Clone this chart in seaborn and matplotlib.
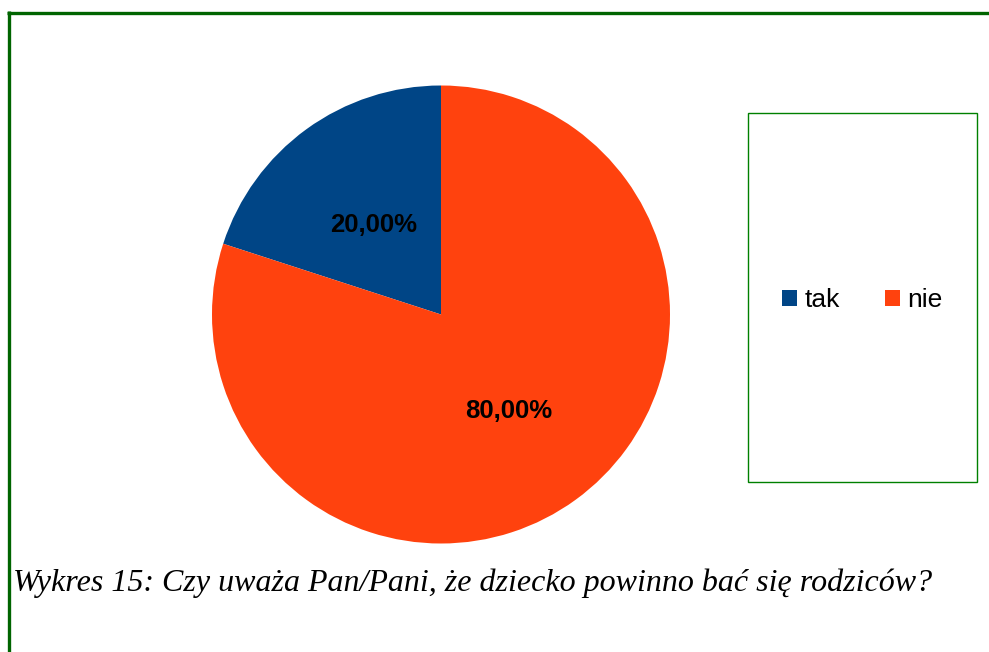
import matplotlib
matplotlib.use("Agg")
import matplotlib.pyplot as plt
import seaborn as sns
from matplotlib.patches import Rectangle
from matplotlib.lines import Line2D

# dane
kategorie = ["tak", "nie"]
wartosci = [20.0, 80.0]
kolory_hex = ["#004586", "#ff420e"]
podpis = "Wykres 15: Czy uważa Pan/Pani, że dziecko powinno bać się rodziców?"

sns.set_style("white")
plt.rcParams["font.family"] = ["Liberation Sans", "DejaVu Sans"]
plt.rcParams["text.color"] = "black"
paleta = sns.color_palette(kolory_hex)

W, H = 989, 652
fig = plt.figure(figsize=(W / 100, H / 100), dpi=100)

# wykres kołowy
cx, cy, r = 441, 314.5, 229
ax = fig.add_axes([(cx - r) / W, (H - cy - r) / H, 2 * r / W, 2 * r / H])
wedges, _, autotexts = ax.pie(
    wartosci, colors=paleta, startangle=90, counterclock=True,
    autopct=lambda p: f"{p:.2f}%".replace(".", ","), pctdistance=0.5,
    radius=1.0, labels=None, wedgeprops={"linewidth": 0, "edgecolor": "none"},
)
for t in autotexts:
    t.set_fontsize(18.5)
    t.set_fontweight("bold")
    t.set_color("black")
    x, y = t.get_position()
    t.set_position((x, y - 0.015))
ax.set_xlim(-1, 1)
ax.set_ylim(-1, 1)
ax.axis("off")

# ramka legendy
fig.patches.append(Rectangle((748 / W, (H - 482) / H), (977 - 748) / W, (482 - 113) / H,
                             transform=fig.transFigure, fill=False,
                             edgecolor="#008000", linewidth=1.0))
fig.legend(wedges, kategorie, loc="center", bbox_to_anchor=(862.5 / W, (H - 300) / H),
           ncol=2, frameon=False, fontsize=19, handlelength=0.55, handleheight=0.55,
           handletextpad=0.3, columnspacing=1.7, labelcolor="black")

# zielona ramka strony
zielony = "#006400"
fig.lines.append(Line2D([7 / W, 1.0], [(H - 12.5) / H] * 2, transform=fig.transFigure,
                        color=zielony, linewidth=2.4, solid_capstyle="butt"))
fig.lines.append(Line2D([8.5 / W] * 2, [0.0, (H - 11) / H], transform=fig.transFigure,
                        color=zielony, linewidth=2.4, solid_capstyle="butt"))

# podpis
fig.text(13 / W, (H - 591) / H, podpis, fontsize=23, fontstyle="italic", color="black",
         family=["Liberation Serif", "DejaVu Serif"], va="baseline", ha="left")

fig.savefig("out.png", dpi=100, facecolor="white")
